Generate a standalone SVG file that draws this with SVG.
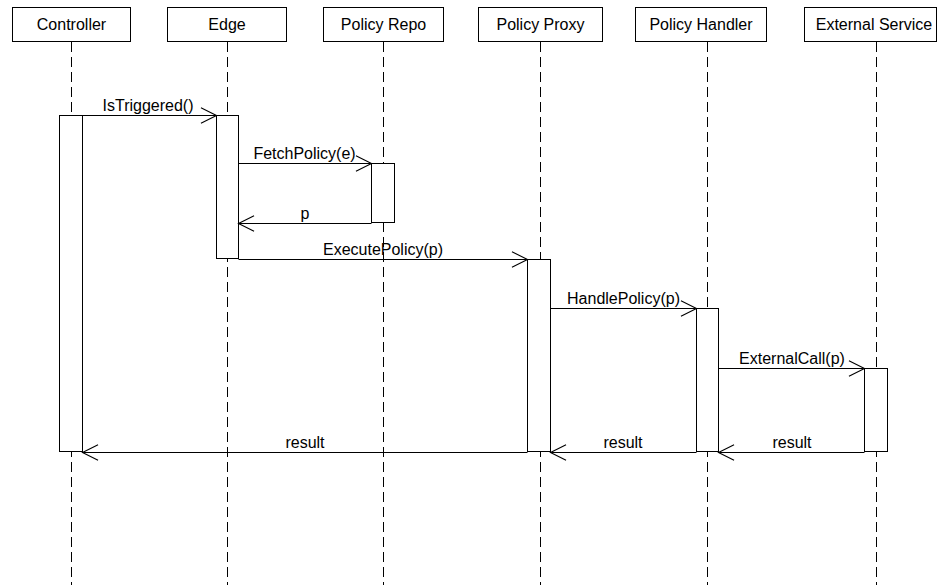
<svg xmlns="http://www.w3.org/2000/svg" width="938" height="585" viewBox="0 0 938 585">
<style>
.box{fill:#fff;stroke:#000;stroke-width:1}
.act{fill:#fff;stroke:#000;stroke-width:1}
.life{stroke:#000;stroke-width:1;stroke-dasharray:10 5;fill:none}
.msg{stroke:#000;stroke-width:1;fill:none;marker-end:url(#arr)}
.t{font-family:"Liberation Sans",Arial,sans-serif;font-size:16px;fill:#000;text-anchor:middle}
</style>
<defs>
<marker id="arr" markerUnits="userSpaceOnUse" markerWidth="20" markerHeight="20" viewBox="-16 -9 18 18" refX="0" refY="0" orient="auto">
<path d="M-14,-7 L0,0 L-14,7" fill="none" stroke="#000" stroke-width="1"/>
</marker>
</defs>
<rect width="938" height="585" fill="#fff"/>
<g id="lifelines">
<line class="life" x1="71.5" y1="42" x2="71.5" y2="585"/>
<line class="life" x1="227.5" y1="42" x2="227.5" y2="585"/>
<line class="life" x1="383.5" y1="42" x2="383.5" y2="585"/>
<line class="life" x1="540.5" y1="42" x2="540.5" y2="585"/>
<line class="life" x1="707.5" y1="42" x2="707.5" y2="585"/>
<line class="life" x1="876.5" y1="42" x2="876.5" y2="585"/>
</g>
<g id="controller">
<rect class="box" x="12.5" y="7.5" width="118" height="34"/>
<text class="t" x="71.5" y="30">Controller</text>
<rect class="act" x="59.5" y="115.5" width="23" height="336"/>
</g>
<g id="edge">
<rect class="box" x="167.5" y="7.5" width="119" height="34"/>
<text class="t" x="227" y="30">Edge</text>
<rect class="act" x="216.5" y="115.5" width="22" height="143"/>
</g>
<g id="policy-repo">
<rect class="box" x="323.5" y="7.5" width="120" height="34"/>
<text class="t" x="383.5" y="30">Policy Repo</text>
<rect class="act" x="371.5" y="163.5" width="23" height="59"/>
</g>
<g id="policy-proxy">
<rect class="box" x="478.5" y="7.5" width="124" height="34"/>
<text class="t" x="540.5" y="30">Policy Proxy</text>
<rect class="act" x="527.5" y="259.5" width="23" height="192"/>
</g>
<g id="policy-handler">
<rect class="box" x="635.5" y="7.5" width="131" height="34"/>
<text class="t" x="701" y="30">Policy Handler</text>
<rect class="act" x="696.5" y="308.5" width="22" height="143"/>
</g>
<g id="external-service">
<rect class="box" x="804.5" y="7.5" width="132" height="34"/>
<text class="t" x="874" y="30">External Service</text>
<rect class="act" x="864.5" y="368.5" width="23" height="83"/>
</g>
<g id="connectors">
<line class="msg" x1="82.5" y1="115.5" x2="216.5" y2="115.5"/>
<text class="t" x="148" y="111">IsTriggered()</text>
<line class="msg" x1="238.5" y1="163.5" x2="371.5" y2="163.5"/>
<text class="t" x="304.5" y="159">FetchPolicy(e)</text>
<line class="msg" x1="371.5" y1="223.5" x2="238.5" y2="223.5"/>
<text class="t" x="305" y="219">p</text>
<line class="msg" x1="238.5" y1="259.5" x2="527.5" y2="259.5"/>
<text class="t" x="383" y="255">ExecutePolicy(p)</text>
<line class="msg" x1="550.5" y1="308.5" x2="696.5" y2="308.5"/>
<text class="t" x="623.5" y="304">HandlePolicy(p)</text>
<line class="msg" x1="718.5" y1="368.5" x2="864.5" y2="368.5"/>
<text class="t" x="792" y="364">ExternalCall(p)</text>
<line class="msg" x1="864.5" y1="452.5" x2="718.5" y2="452.5"/>
<text class="t" x="792" y="448">result</text>
<line class="msg" x1="696.5" y1="452.5" x2="550.5" y2="452.5"/>
<text class="t" x="623" y="448">result</text>
<line class="msg" x1="527.5" y1="452.5" x2="82.5" y2="452.5"/>
<text class="t" x="305" y="448">result</text>
</g>
</svg>
